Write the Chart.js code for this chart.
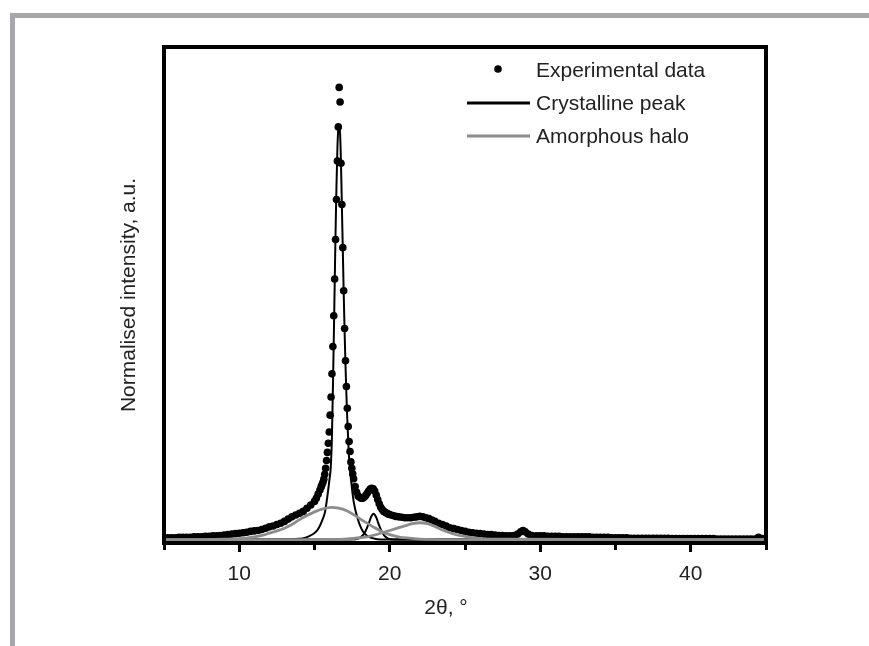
<!DOCTYPE html>
<html>
<head>
<meta charset="utf-8">
<script src="https://cdn.jsdelivr.net/npm/chart.js@4.4.1/dist/chart.umd.min.js"></script>
<style>
  html, body { margin: 0; padding: 0; background: #fff; }
  #marco { position: absolute; left: 10px; top: 13px; width: 859px; height: 633px;
           border-top: 5px solid #a8a8ab; border-left: 5px solid #a8a8ab; box-sizing: border-box; }
  #contenedor { position: absolute; left: 0; top: 0; width: 869px; height: 646px; }
</style>
</head>
<body>
<div id="marco"></div>
<div id="contenedor"><canvas id="graficoDRX"></canvas></div>
<script>
// Datos experimentales (2θ, intensidad normalizada)
const expX = [
  5.00, 5.25, 5.50, 5.75, 6.00, 6.25, 6.50, 6.75, 7.00, 7.25, 7.50, 7.75, 8.00, 8.25, 8.50, 8.75,
  9.00, 9.25, 9.50, 9.75, 10.00, 10.25, 10.50, 10.75, 11.00, 11.25, 11.50, 11.75, 12.00, 12.25, 12.50, 12.75,
  13.00, 13.25, 13.50, 13.75, 14.00, 14.25, 14.50, 14.75, 15.00, 15.12, 15.24, 15.36, 15.44, 15.50, 15.56, 15.62,
  15.68, 15.74, 15.80, 15.86, 15.92, 15.98, 16.04, 16.10, 16.16, 16.22, 16.28, 16.34, 16.40, 16.46, 16.52, 16.58,
  16.64, 16.70, 16.76, 16.82, 16.88, 16.94, 17.00, 17.06, 17.12, 17.18, 17.24, 17.30, 17.36, 17.42, 17.48, 17.54,
  17.60, 17.70, 17.80, 17.90, 18.00, 18.10, 18.20, 18.30, 18.40, 18.50, 18.60, 18.70, 18.80, 18.90, 19.00, 19.10,
  19.20, 19.30, 19.40, 19.50, 19.60, 19.70, 19.80, 19.90, 20.00, 20.20, 20.40, 20.60, 20.80, 21.00, 21.20, 21.40,
  21.60, 21.80, 22.00, 22.20, 22.40, 22.60, 22.80, 23.00, 23.25, 23.50, 23.75, 24.00, 24.25, 24.50, 24.75, 25.00,
  25.25, 25.50, 25.75, 26.00, 26.25, 26.50, 26.75, 27.00, 27.25, 27.50, 27.75, 28.00, 28.25, 28.50, 28.70, 28.85,
  29.00, 29.20, 29.45, 29.75, 30.00, 30.25, 30.50, 30.75, 31.00, 31.25, 31.50, 31.75, 32.00, 32.25, 32.50, 32.75,
  33.00, 33.25, 33.50, 33.75, 34.00, 34.25, 34.50, 34.75, 35.00, 35.25, 35.50, 35.75, 36.00, 36.25, 36.50, 36.75,
  37.00, 37.25, 37.50, 37.75, 38.00, 38.25, 38.50, 38.75, 39.00, 39.25, 39.50, 39.75, 40.00, 40.25, 40.50, 40.75,
  41.00, 41.25, 41.50, 41.75, 42.00, 42.25, 42.50, 42.75, 43.00, 43.25, 43.50, 43.75, 44.00, 44.25, 44.50, 44.75
];
const expY = [
  0.005, 0.005, 0.005, 0.005, 0.006, 0.006, 0.006, 0.006, 0.007, 0.007, 0.007, 0.008, 0.008, 0.009, 0.009, 0.010,
  0.011, 0.012, 0.013, 0.014, 0.015, 0.016, 0.017, 0.019, 0.020, 0.021, 0.023, 0.026, 0.029, 0.031, 0.034, 0.037,
  0.041, 0.046, 0.051, 0.055, 0.059, 0.063, 0.070, 0.077, 0.085, 0.092, 0.101, 0.110, 0.117, 0.122, 0.127, 0.134,
  0.145, 0.158, 0.175, 0.193, 0.213, 0.238, 0.275, 0.315, 0.366, 0.426, 0.494, 0.575, 0.662, 0.750, 0.835, 0.910,
  0.997, 0.965, 0.830, 0.739, 0.644, 0.549, 0.466, 0.395, 0.338, 0.290, 0.250, 0.217, 0.195, 0.172, 0.158, 0.146,
  0.135, 0.118, 0.105, 0.097, 0.094, 0.092, 0.092, 0.094, 0.098, 0.103, 0.108, 0.112, 0.114, 0.113, 0.108, 0.099,
  0.089, 0.080, 0.072, 0.067, 0.063, 0.061, 0.059, 0.057, 0.056, 0.054, 0.052, 0.051, 0.050, 0.049, 0.049, 0.049,
  0.050, 0.051, 0.052, 0.051, 0.049, 0.047, 0.044, 0.041, 0.037, 0.034, 0.031, 0.027, 0.025, 0.023, 0.021, 0.019,
  0.017, 0.016, 0.015, 0.014, 0.013, 0.012, 0.012, 0.011, 0.010, 0.010, 0.009, 0.009, 0.010, 0.013, 0.018, 0.021,
  0.018, 0.013, 0.010, 0.009, 0.009, 0.009, 0.008, 0.008, 0.008, 0.008, 0.007, 0.007, 0.007, 0.007, 0.007, 0.007,
  0.007, 0.007, 0.006, 0.006, 0.006, 0.006, 0.006, 0.005, 0.005, 0.005, 0.005, 0.005, 0.004, 0.004, 0.004, 0.004,
  0.004, 0.004, 0.004, 0.004, 0.004, 0.004, 0.004, 0.003, 0.003, 0.003, 0.003, 0.003, 0.003, 0.003, 0.003, 0.003,
  0.003, 0.003, 0.003, 0.002, 0.002, 0.002, 0.002, 0.002, 0.002, 0.002, 0.002, 0.002, 0.002, 0.002, 0.006, 0.003
];

// Pico cristalino principal
const cristalX = [5.0, 12.0, 13.6, 14.55, 15.2, 15.5, 15.7, 15.85, 16.0, 16.08, 16.16, 16.22, 16.28, 16.34, 16.40, 16.46,
  16.52, 16.58, 16.64, 16.70, 16.76, 16.82, 16.88, 16.94, 17.00, 17.06, 17.12, 17.18, 17.24, 17.30, 17.42, 17.6,
  17.86, 18.1, 18.3, 18.6, 19.0, 20.0, 45.0];
const cristalY = [0.001, 0.001, 0.002, 0.007, 0.022, 0.042, 0.062, 0.095, 0.135, 0.160, 0.230, 0.330, 0.440, 0.560, 0.680, 0.780,
  0.860, 0.905, 0.912, 0.895, 0.830, 0.735, 0.640, 0.545, 0.460, 0.385, 0.320, 0.265, 0.220, 0.180, 0.135, 0.085,
  0.048, 0.026, 0.015, 0.007, 0.003, 0.001, 0.001];

// Pico cristalino secundario (~19°)
const cristal2X = [5.0, 17.5, 17.9, 18.2, 18.4, 18.6, 18.75, 18.92, 19.1, 19.25, 19.45, 19.65, 19.9, 20.3, 45.0];
const cristal2Y = [0.001, 0.001, 0.003, 0.010, 0.020, 0.036, 0.050, 0.058, 0.050, 0.036, 0.020, 0.009, 0.003, 0.001, 0.001];

// Halos amorfos
const halo1X = [5, 7, 9, 10, 11, 11.5, 12, 12.5, 13, 13.5, 14, 14.5, 15, 15.5, 16.1, 16.6,
  17.1, 17.6, 18.1, 18.6, 19.0, 19.4, 19.8, 20.2, 20.7, 21.3, 22, 24, 45];
const halo1Y = [0.001, 0.001, 0.002, 0.003, 0.007, 0.010, 0.015, 0.020, 0.026, 0.034, 0.045, 0.054, 0.062, 0.068, 0.072, 0.070,
  0.065, 0.056, 0.045, 0.035, 0.027, 0.020, 0.014, 0.010, 0.006, 0.004, 0.002, 0.001, 0.001];

const halo2X = [5, 15, 17, 18, 18.5, 19, 19.5, 20, 20.5, 21, 21.5, 22, 22.5, 23, 23.5, 24, 24.5, 25, 25.5, 26, 27, 45];
const halo2Y = [0.001, 0.001, 0.002, 0.005, 0.007, 0.011, 0.016, 0.021, 0.026, 0.031, 0.036, 0.038, 0.036, 0.030, 0.022, 0.016,
  0.011, 0.008, 0.005, 0.003, 0.002, 0.001];

const etiquetas = ["Experimental data", "Crystalline peak", "Amorphous halo"];
const tituloX = "2θ, °";
const tituloY = "Normalised intensity, a.u.";

const fuente = "'Liberation Sans', Arial, sans-serif";
const colorTexto = "#222";
const gris = "#8c8c8c";

const aPuntos = (xs, ys) => xs.map((x, i) => ({ x: x, y: ys[i] }));

const lineaBase = {
    showLine: true,
    pointRadius: 0,
    fill: false,
    cubicInterpolationMode: 'monotone'
};

// Marco del gráfico, leyenda y título del eje x
const extras = {
    id: 'extras',
    afterDraw(chart) {
        const { ctx, chartArea } = chart;
        ctx.save();
        ctx.strokeStyle = '#000';
        ctx.lineWidth = 4;
        ctx.strokeRect(chartArea.left, chartArea.top, chartArea.right - chartArea.left, chartArea.bottom - chartArea.top);

        const r = chartArea.right;
        const t = chartArea.top;
        ctx.font = "21px " + fuente;
        ctx.fillStyle = colorTexto;
        ctx.textBaseline = 'middle';
        ctx.textAlign = 'left';

        // Experimental data
        ctx.beginPath();
        ctx.fillStyle = '#000';
        ctx.arc(r - 268, t + 22, 3.8, 0, Math.PI * 2);
        ctx.fill();
        ctx.fillStyle = colorTexto;
        ctx.fillText(etiquetas[0], r - 230, t + 24);

        // Crystalline peak
        ctx.beginPath();
        ctx.strokeStyle = '#000';
        ctx.lineWidth = 3;
        ctx.moveTo(r - 299, t + 56);
        ctx.lineTo(r - 236, t + 56);
        ctx.stroke();
        ctx.fillText(etiquetas[1], r - 230, t + 57);

        // Amorphous halo
        ctx.beginPath();
        ctx.strokeStyle = gris;
        ctx.moveTo(r - 299, t + 89);
        ctx.lineTo(r - 236, t + 89);
        ctx.stroke();
        ctx.fillText(etiquetas[2], r - 230, t + 90);

        // Título eje x
        ctx.textAlign = 'center';
        ctx.fillText(tituloX, 446, 608);
        ctx.restore();
    }
};

new Chart(document.getElementById('graficoDRX'), {
    type: 'scatter',
    data: {
        datasets: [
            { ...lineaBase, label: etiquetas[2], data: aPuntos(halo1X, halo1Y), borderColor: gris, borderWidth: 2.8, order: 1 },
            { ...lineaBase, label: etiquetas[2], data: aPuntos(halo2X, halo2Y), borderColor: gris, borderWidth: 2.8, order: 1 },
            { ...lineaBase, label: etiquetas[1], data: aPuntos(cristalX, cristalY), borderColor: '#000', borderWidth: 2, order: 2 },
            { ...lineaBase, label: etiquetas[1], data: aPuntos(cristal2X, cristal2Y), borderColor: '#000', borderWidth: 2, order: 2 },
            {
                label: etiquetas[0],
                data: aPuntos(expX, expY),
                showLine: false,
                pointRadius: 3.8,
                pointBorderWidth: 0,
                pointBackgroundColor: '#000',
                pointBorderColor: '#000',
                order: 3
            }
        ]
    },
    options: {
        responsive: true,
        maintainAspectRatio: false,
        animation: false,
        layout: { padding: { left: 0, top: 47, right: 103, bottom: 0 } },
        plugins: {
            legend: { display: false },
            tooltip: { enabled: false }
        },
        scales: {
            x: {
                type: 'linear',
                min: 5,
                max: 45,
                afterFit: s => { s.height = 103; },
                border: { display: true, color: '#000', width: 4 },
                grid: {
                    drawOnChartArea: false,
                    drawTicks: true,
                    tickLength: 9,
                    tickWidth: 3,
                    tickColor: '#000',
                    tickBorderDash: c => (c.tick && c.tick.value % 10 !== 0) ? [5, 30] : []
                },
                ticks: {
                    stepSize: 5,
                    padding: 10,
                    maxRotation: 0,
                    autoSkip: false,
                    color: colorTexto,
                    font: { family: fuente, size: 21 },
                    callback: v => (v % 10 === 0 ? String(v) : '')
                },
                title: { display: false }
            },
            y: {
                min: -0.0066,
                max: 1.086,
                afterFit: s => { s.width = 164; },
                border: { display: false },
                grid: { display: false },
                ticks: { display: false },
                title: {
                    display: true,
                    text: tituloY,
                    color: colorTexto,
                    font: { family: fuente, size: 21 },
                    padding: { top: 117, bottom: 0 }
                }
            }
        }
    },
    plugins: [extras]
});
</script>
</body>
</html>
